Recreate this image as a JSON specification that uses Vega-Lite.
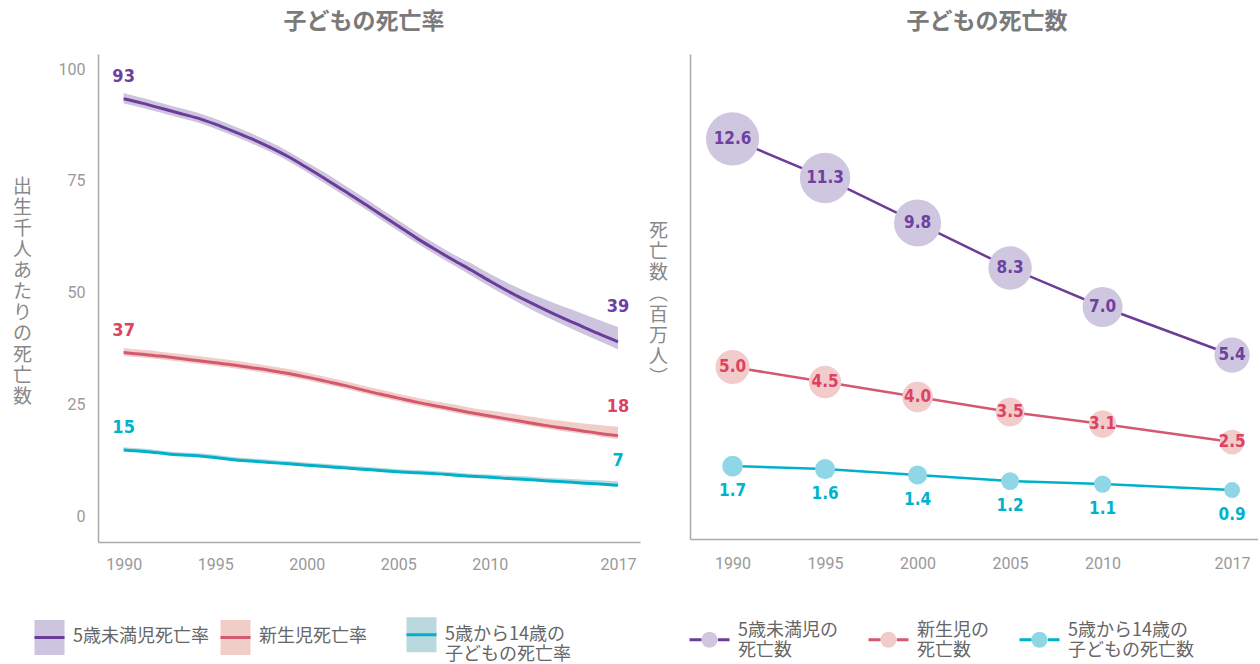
{
  "$schema": "https://vega.github.io/schema/vega-lite/v6.json",
  "padding": {"left": 12, "top": 11, "right": 0, "bottom": 4},
  "background": "white",
  "spacing": 50,
  "bounds": "flush",
  "config": {
    "view": {"stroke": null},
    "font": "Noto Sans CJK JP",
    "axis": {
      "domainColor": "#aaaaaa", "domainWidth": 1.5, "ticks": false, "grid": false,
      "labelColor": "#999999", "labelFont": "Roboto", "labelFontSize": 16,
      "titleColor": "#888888", "titleFont": "Noto Sans CJK JP", "titleFontWeight": "normal", "titleFontSize": 19
    },
    "title": {"font": "Noto Sans CJK JP", "fontSize": 23, "fontWeight": "bold", "color": "#7a7a7a", "anchor": "middle", "offset": 20},
    "legend": {"labelFont": "Noto Sans CJK JP", "labelFontSize": 18, "labelColor": "#666666", "padding": 0, "title": null}
  },
  "resolve": {
    "scale": {"x": "independent", "y": "independent", "fill": "independent", "stroke": "independent", "color": "independent", "size": "independent"}
  },
  "hconcat": [
    {
      "width": 542,
      "height": 488,
      "title": {"text": "子どもの死亡率", "dx": -5},
      "data": {"values": [
        {"year": 1990, "series": "5歳未満児死亡率", "value": 93.4, "lo": 92.3, "hi": 94.7},
        {"year": 1991, "series": "5歳未満児死亡率", "value": 92.4, "lo": 91.4, "hi": 93.6},
        {"year": 1992, "series": "5歳未満児死亡率", "value": 91.3, "lo": 90.3, "hi": 92.5},
        {"year": 1993, "series": "5歳未満児死亡率", "value": 90.2, "lo": 89.2, "hi": 91.4},
        {"year": 1994, "series": "5歳未満児死亡率", "value": 89.1, "lo": 88.1, "hi": 90.3},
        {"year": 1995, "series": "5歳未満児死亡率", "value": 87.7, "lo": 86.7, "hi": 88.9},
        {"year": 1996, "series": "5歳未満児死亡率", "value": 86.1, "lo": 85.1, "hi": 87.3},
        {"year": 1997, "series": "5歳未満児死亡率", "value": 84.4, "lo": 83.4, "hi": 85.6},
        {"year": 1998, "series": "5歳未満児死亡率", "value": 82.5, "lo": 81.5, "hi": 83.7},
        {"year": 1999, "series": "5歳未満児死亡率", "value": 80.4, "lo": 79.4, "hi": 81.6},
        {"year": 2000, "series": "5歳未満児死亡率", "value": 78.0, "lo": 77.0, "hi": 79.2},
        {"year": 2001, "series": "5歳未満児死亡率", "value": 75.5, "lo": 74.4, "hi": 76.8},
        {"year": 2002, "series": "5歳未満児死亡率", "value": 72.9, "lo": 71.8, "hi": 74.2},
        {"year": 2003, "series": "5歳未満児死亡率", "value": 70.3, "lo": 69.2, "hi": 71.6},
        {"year": 2004, "series": "5歳未満児死亡率", "value": 67.6, "lo": 66.5, "hi": 68.9},
        {"year": 2005, "series": "5歳未満児死亡率", "value": 64.9, "lo": 63.8, "hi": 66.2},
        {"year": 2006, "series": "5歳未満児死亡率", "value": 62.2, "lo": 61.1, "hi": 63.5},
        {"year": 2007, "series": "5歳未満児死亡率", "value": 59.7, "lo": 58.6, "hi": 61.0},
        {"year": 2008, "series": "5歳未満児死亡率", "value": 57.3, "lo": 56.2, "hi": 58.6},
        {"year": 2009, "series": "5歳未満児死亡率", "value": 55.0, "lo": 53.8, "hi": 56.5},
        {"year": 2010, "series": "5歳未満児死亡率", "value": 52.6, "lo": 51.3, "hi": 54.2},
        {"year": 2011, "series": "5歳未満児死亡率", "value": 50.3, "lo": 49.0, "hi": 52.1},
        {"year": 2012, "series": "5歳未満児死亡率", "value": 48.2, "lo": 46.8, "hi": 50.2},
        {"year": 2013, "series": "5歳未満児死亡率", "value": 46.2, "lo": 44.7, "hi": 48.5},
        {"year": 2014, "series": "5歳未満児死亡率", "value": 44.3, "lo": 42.8, "hi": 46.9},
        {"year": 2015, "series": "5歳未満児死亡率", "value": 42.5, "lo": 40.9, "hi": 45.4},
        {"year": 2016, "series": "5歳未満児死亡率", "value": 40.7, "lo": 39.1, "hi": 43.8},
        {"year": 2017, "series": "5歳未満児死亡率", "value": 39.0, "lo": 37.3, "hi": 42.3},
        {"year": 1990, "series": "新生児死亡率", "value": 36.6, "lo": 35.9, "hi": 37.6},
        {"year": 1991, "series": "新生児死亡率", "value": 36.2, "lo": 35.5, "hi": 37.2},
        {"year": 1992, "series": "新生児死亡率", "value": 35.8, "lo": 35.1, "hi": 36.8},
        {"year": 1993, "series": "新生児死亡率", "value": 35.3, "lo": 34.6, "hi": 36.3},
        {"year": 1994, "series": "新生児死亡率", "value": 34.8, "lo": 34.1, "hi": 35.8},
        {"year": 1995, "series": "新生児死亡率", "value": 34.3, "lo": 33.6, "hi": 35.3},
        {"year": 1996, "series": "新生児死亡率", "value": 33.8, "lo": 33.1, "hi": 34.8},
        {"year": 1997, "series": "新生児死亡率", "value": 33.2, "lo": 32.5, "hi": 34.2},
        {"year": 1998, "series": "新生児死亡率", "value": 32.6, "lo": 31.9, "hi": 33.6},
        {"year": 1999, "series": "新生児死亡率", "value": 31.9, "lo": 31.2, "hi": 32.9},
        {"year": 2000, "series": "新生児死亡率", "value": 31.1, "lo": 30.4, "hi": 32.1},
        {"year": 2001, "series": "新生児死亡率", "value": 30.2, "lo": 29.5, "hi": 31.2},
        {"year": 2002, "series": "新生児死亡率", "value": 29.3, "lo": 28.6, "hi": 30.3},
        {"year": 2003, "series": "新生児死亡率", "value": 28.3, "lo": 27.6, "hi": 29.3},
        {"year": 2004, "series": "新生児死亡率", "value": 27.3, "lo": 26.6, "hi": 28.3},
        {"year": 2005, "series": "新生児死亡率", "value": 26.4, "lo": 25.7, "hi": 27.4},
        {"year": 2006, "series": "新生児死亡率", "value": 25.5, "lo": 24.8, "hi": 26.5},
        {"year": 2007, "series": "新生児死亡率", "value": 24.7, "lo": 24.0, "hi": 25.7},
        {"year": 2008, "series": "新生児死亡率", "value": 23.9, "lo": 23.2, "hi": 25.0},
        {"year": 2009, "series": "新生児死亡率", "value": 23.1, "lo": 22.4, "hi": 24.2},
        {"year": 2010, "series": "新生児死亡率", "value": 22.4, "lo": 21.7, "hi": 23.6},
        {"year": 2011, "series": "新生児死亡率", "value": 21.7, "lo": 21.0, "hi": 23.0},
        {"year": 2012, "series": "新生児死亡率", "value": 21.0, "lo": 20.3, "hi": 22.4},
        {"year": 2013, "series": "新生児死亡率", "value": 20.3, "lo": 19.6, "hi": 21.8},
        {"year": 2014, "series": "新生児死亡率", "value": 19.7, "lo": 19.0, "hi": 21.3},
        {"year": 2015, "series": "新生児死亡率", "value": 19.1, "lo": 18.4, "hi": 20.8},
        {"year": 2016, "series": "新生児死亡率", "value": 18.5, "lo": 17.8, "hi": 20.4},
        {"year": 2017, "series": "新生児死亡率", "value": 18.0, "lo": 17.2, "hi": 20.0},
        {"year": 1990, "series": "5歳から14歳の\n子どもの死亡率", "value": 14.8, "lo": 14.6, "hi": 15.4},
        {"year": 1991, "series": "5歳から14歳の\n子どもの死亡率", "value": 14.5, "lo": 14.3, "hi": 15.1},
        {"year": 1992, "series": "5歳から14歳の\n子どもの死亡率", "value": 14.1, "lo": 13.9, "hi": 14.7},
        {"year": 1993, "series": "5歳から14歳の\n子どもの死亡率", "value": 13.7, "lo": 13.5, "hi": 14.3},
        {"year": 1994, "series": "5歳から14歳の\n子どもの死亡率", "value": 13.5, "lo": 13.3, "hi": 14.1},
        {"year": 1995, "series": "5歳から14歳の\n子どもの死亡率", "value": 13.1, "lo": 12.9, "hi": 13.7},
        {"year": 1996, "series": "5歳から14歳の\n子どもの死亡率", "value": 12.6, "lo": 12.4, "hi": 13.2},
        {"year": 1997, "series": "5歳から14歳の\n子どもの死亡率", "value": 12.3, "lo": 12.1, "hi": 12.9},
        {"year": 1998, "series": "5歳から14歳の\n子どもの死亡率", "value": 12.0, "lo": 11.8, "hi": 12.6},
        {"year": 1999, "series": "5歳から14歳の\n子どもの死亡率", "value": 11.7, "lo": 11.5, "hi": 12.3},
        {"year": 2000, "series": "5歳から14歳の\n子どもの死亡率", "value": 11.4, "lo": 11.2, "hi": 12.0},
        {"year": 2001, "series": "5歳から14歳の\n子どもの死亡率", "value": 11.1, "lo": 10.9, "hi": 11.7},
        {"year": 2002, "series": "5歳から14歳の\n子どもの死亡率", "value": 10.8, "lo": 10.6, "hi": 11.4},
        {"year": 2003, "series": "5歳から14歳の\n子どもの死亡率", "value": 10.5, "lo": 10.3, "hi": 11.1},
        {"year": 2004, "series": "5歳から14歳の\n子どもの死亡率", "value": 10.2, "lo": 10.0, "hi": 10.8},
        {"year": 2005, "series": "5歳から14歳の\n子どもの死亡率", "value": 9.9, "lo": 9.7, "hi": 10.5},
        {"year": 2006, "series": "5歳から14歳の\n子どもの死亡率", "value": 9.7, "lo": 9.5, "hi": 10.3},
        {"year": 2007, "series": "5歳から14歳の\n子どもの死亡率", "value": 9.5, "lo": 9.3, "hi": 10.1},
        {"year": 2008, "series": "5歳から14歳の\n子どもの死亡率", "value": 9.2, "lo": 9.0, "hi": 9.8},
        {"year": 2009, "series": "5歳から14歳の\n子どもの死亡率", "value": 8.9, "lo": 8.7, "hi": 9.5},
        {"year": 2010, "series": "5歳から14歳の\n子どもの死亡率", "value": 8.7, "lo": 8.5, "hi": 9.3},
        {"year": 2011, "series": "5歳から14歳の\n子どもの死亡率", "value": 8.4, "lo": 8.2, "hi": 9.1},
        {"year": 2012, "series": "5歳から14歳の\n子どもの死亡率", "value": 8.2, "lo": 8.0, "hi": 8.9},
        {"year": 2013, "series": "5歳から14歳の\n子どもの死亡率", "value": 7.9, "lo": 7.7, "hi": 8.6},
        {"year": 2014, "series": "5歳から14歳の\n子どもの死亡率", "value": 7.7, "lo": 7.5, "hi": 8.4},
        {"year": 2015, "series": "5歳から14歳の\n子どもの死亡率", "value": 7.4, "lo": 7.2, "hi": 8.2},
        {"year": 2016, "series": "5歳から14歳の\n子どもの死亡率", "value": 7.2, "lo": 7.0, "hi": 8.0},
        {"year": 2017, "series": "5歳から14歳の\n子どもの死亡率", "value": 6.9, "lo": 6.7, "hi": 7.8}
      ]},
      "layer": [
        {
          "mark": {"type": "area", "opacity": 1, "interpolate": "monotone"},
          "encoding": {
            "x": {"field": "year", "type": "quantitative",
              "scale": {"domain": [1988.6, 2018.2], "nice": false, "zero": false},
              "axis": {"values": [1990, 1995, 2000, 2005, 2010, 2017], "format": "d", "title": null, "labelPadding": 14, "labelFlush": false}},
            "y": {"field": "lo", "type": "quantitative",
              "scale": {"domain": [-5.8, 103.4], "nice": false, "zero": false},
              "axis": {"values": [0, 25, 50, 75, 100], "labelPadding": 13,
                "title": ["出", "生", "千", "人", "あ", "た", "り", "の", "死", "亡", "数"],
                "titleAngle": 0, "titleX": -76, "titleY": 123, "titleAlign": "center", "titleBaseline": "top", "titleLineHeight": 21}},
            "y2": {"field": "hi"},
            "fill": {"field": "series", "type": "nominal",
              "scale": {"domain": ["5歳未満児死亡率", "新生児死亡率", "5歳から14歳の\n子どもの死亡率"], "range": ["#cdc4df", "#f1cdc8", "#bad9de"]},
              "legend": {"orient": "none", "legendX": -65, "legendY": 564, "direction": "horizontal", "columns": 3, "gridAlign": "all", "columnPadding": 5,
                "symbolType": "M-1,0H1V1.17H-1V-1.17H1V0", "symbolSize": 900, "symbolStrokeWidth": 3, "symbolDash": [30, 300], "symbolOpacity": 1,
                "labelOffset": 7, "labelLimit": 300, "labelBaseline": "middle", "labelExpr": "split(datum.label, '\\n')"}}
          }
        },
        {
          "mark": {"type": "line", "strokeWidth": 3, "interpolate": "monotone"},
          "encoding": {
            "x": {"field": "year", "type": "quantitative"},
            "y": {"field": "value", "type": "quantitative"},
            "stroke": {"field": "series", "type": "nominal",
              "scale": {"domain": ["5歳未満児死亡率", "新生児死亡率", "5歳から14歳の\n子どもの死亡率"], "range": ["#6b3d99", "#d4586f", "#00b1c9"]},
              "legend": {"orient": "none", "legendX": -65, "legendY": 564, "direction": "horizontal", "columns": 3, "gridAlign": "all", "columnPadding": 5,
                "symbolType": "M-1,0H1V1.17H-1V-1.17H1V0", "symbolSize": 900, "symbolStrokeWidth": 3, "symbolDash": [30, 300], "symbolOpacity": 1,
                "labelOffset": 7, "labelLimit": 300, "labelBaseline": "middle", "labelExpr": "split(datum.label, '\\n')"}}
          }
        },
        {
          "transform": [{"filter": "datum.year == 1990"}],
          "mark": {"type": "text", "font": "DejaVu Sans Condensed, sans-serif", "fontWeight": "bold", "fontSize": 18, "dy": -22, "baseline": "middle", "align": "center"},
          "encoding": {
            "x": {"field": "year", "type": "quantitative"},
            "y": {"field": "value", "type": "quantitative"},
            "text": {"field": "value", "type": "quantitative", "format": ".0f"},
            "color": {"field": "series", "type": "nominal", "legend": null,
              "scale": {"domain": ["5歳未満児死亡率", "新生児死亡率", "5歳から14歳の\n子どもの死亡率"], "range": ["#6e40a0", "#dd4262", "#00b3cc"]}}
          }
        },
        {
          "transform": [{"filter": "datum.year == 2017"}],
          "mark": {"type": "text", "font": "DejaVu Sans Condensed, sans-serif", "fontWeight": "bold", "fontSize": 18, "dy": -20, "baseline": "middle", "align": "center"},
          "encoding": {
            "x": {"field": "year", "type": "quantitative"},
            "y": {"field": "hi", "type": "quantitative"},
            "text": {"field": "value", "type": "quantitative", "format": ".0f"},
            "color": {"field": "series", "type": "nominal", "legend": null}
          }
        }
      ]
    },
    {
      "width": 568,
      "height": 485,
      "title": {"text": "子どもの死亡数", "dx": 13},
      "data": {"values": [
        {"year": 1990, "group": "5歳未満児の\n死亡数", "v": 12.6},
        {"year": 1995, "group": "5歳未満児の\n死亡数", "v": 11.3},
        {"year": 2000, "group": "5歳未満児の\n死亡数", "v": 9.8},
        {"year": 2005, "group": "5歳未満児の\n死亡数", "v": 8.3},
        {"year": 2010, "group": "5歳未満児の\n死亡数", "v": 7.0},
        {"year": 2017, "group": "5歳未満児の\n死亡数", "v": 5.4},
        {"year": 1990, "group": "新生児の\n死亡数", "v": 5.0},
        {"year": 1995, "group": "新生児の\n死亡数", "v": 4.5},
        {"year": 2000, "group": "新生児の\n死亡数", "v": 4.0},
        {"year": 2005, "group": "新生児の\n死亡数", "v": 3.5},
        {"year": 2010, "group": "新生児の\n死亡数", "v": 3.1},
        {"year": 2017, "group": "新生児の\n死亡数", "v": 2.5},
        {"year": 1990, "group": "5歳から14歳の\n子どもの死亡数", "v": 1.7},
        {"year": 1995, "group": "5歳から14歳の\n子どもの死亡数", "v": 1.6},
        {"year": 2000, "group": "5歳から14歳の\n子どもの死亡数", "v": 1.4},
        {"year": 2005, "group": "5歳から14歳の\n子どもの死亡数", "v": 1.2},
        {"year": 2010, "group": "5歳から14歳の\n子どもの死亡数", "v": 1.1},
        {"year": 2017, "group": "5歳から14歳の\n子どもの死亡数", "v": 0.9}
      ]},
      "layer": [
        {
          "mark": {"type": "line", "strokeWidth": 2.5},
          "encoding": {
            "x": {"field": "year", "type": "quantitative",
              "scale": {"domain": [1987.7, 2018.4], "nice": false, "zero": false},
              "axis": {"values": [1990, 1995, 2000, 2005, 2010, 2017], "format": "d", "title": null, "labelPadding": 16, "labelFlush": false}},
            "y": {"field": "v", "type": "quantitative",
              "scale": {"domain": [-0.73, 15.43], "nice": false, "zero": false},
              "axis": {"labels": false, "values": [0],
                "title": ["死", "亡", "数", "︵", "百", "万", "人", "︶"],
                "titleAngle": 0, "titleX": -32, "titleY": 167, "titleAlign": "center", "titleBaseline": "top", "titleLineHeight": 21}},
            "stroke": {"field": "group", "type": "nominal",
              "scale": {"domain": ["5歳未満児の\n死亡数", "新生児の\n死亡数", "5歳から14歳の\n子どもの死亡数"], "range": ["#6b3d99", "#d4586f", "#00b1c9"]},
              "legend": {"orient": "none", "legendX": -2, "legendY": 564, "direction": "horizontal", "columns": 3, "gridAlign": "each", "columnPadding": 24,
                "symbolType": "M-1,0H-0.4A0.4,0.4 0 1 1 0.4,0A0.4,0.4 0 1 1 -0.4,0H0.4H1", "symbolSize": 1600, "symbolStrokeWidth": 3, "symbolDash": [12, 66.27, 12, 200], "symbolOpacity": 1,
                "labelOffset": 7, "labelLimit": 300, "labelBaseline": "bottom", "labelExpr": "split(datum.label, '\\n')"}}
          }
        },
        {
          "mark": {"type": "circle", "opacity": 1},
          "encoding": {
            "x": {"field": "year", "type": "quantitative"},
            "y": {"field": "v", "type": "quantitative"},
            "size": {"field": "v", "type": "quantitative", "scale": {"domain": [0, 12.6], "range": [56, 2827]}, "legend": null},
            "fill": {"field": "group", "type": "nominal",
              "scale": {"domain": ["5歳未満児の\n死亡数", "新生児の\n死亡数", "5歳から14歳の\n子どもの死亡数"], "range": ["#cfc6e0", "#f2cbcb", "#8fd6e6"]},
              "legend": {"orient": "none", "legendX": -2, "legendY": 564, "direction": "horizontal", "columns": 3, "gridAlign": "each", "columnPadding": 24,
                "symbolType": "M-1,0H-0.4A0.4,0.4 0 1 1 0.4,0A0.4,0.4 0 1 1 -0.4,0H0.4H1", "symbolSize": 1600, "symbolStrokeWidth": 3, "symbolDash": [12, 66.27, 12, 200], "symbolOpacity": 1,
                "labelOffset": 7, "labelLimit": 300, "labelBaseline": "bottom", "labelExpr": "split(datum.label, '\\n')"}}
          }
        },
        {
          "transform": [{"filter": "indexof(datum.group, '14') < 0"}],
          "mark": {"type": "text", "font": "DejaVu Sans Condensed, sans-serif", "fontWeight": "bold", "fontSize": 17, "baseline": "middle", "align": "center"},
          "encoding": {
            "x": {"field": "year", "type": "quantitative"},
            "y": {"field": "v", "type": "quantitative"},
            "text": {"field": "v", "type": "quantitative", "format": ".1f"},
            "color": {"field": "group", "type": "nominal", "legend": null,
              "scale": {"domain": ["5歳未満児の\n死亡数", "新生児の\n死亡数", "5歳から14歳の\n子どもの死亡数"], "range": ["#6e40a0", "#dd4262", "#00b3cc"]}}
          }
        },
        {
          "transform": [{"filter": "indexof(datum.group, '14') >= 0"}],
          "mark": {"type": "text", "font": "DejaVu Sans Condensed, sans-serif", "fontWeight": "bold", "fontSize": 17, "baseline": "middle", "align": "center", "dy": 25},
          "encoding": {
            "x": {"field": "year", "type": "quantitative"},
            "y": {"field": "v", "type": "quantitative"},
            "text": {"field": "v", "type": "quantitative", "format": ".1f"},
            "color": {"field": "group", "type": "nominal", "legend": null}
          }
        }
      ]
    }
  ]
}
